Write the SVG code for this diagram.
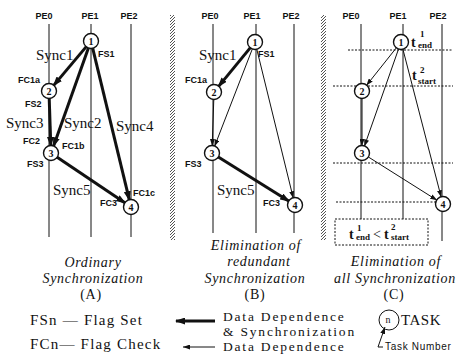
<svg xmlns="http://www.w3.org/2000/svg" width="459" height="355" viewBox="0 0 459 355">
<style>
.pe{font-family:"Liberation Sans",Arial,sans-serif;font-weight:bold;font-size:9px;text-anchor:middle;fill:#111}
.lab{font-family:"Liberation Sans",Arial,sans-serif;font-weight:bold;font-size:9px;fill:#111}
.syn{font-family:"Liberation Serif","Times New Roman",serif;font-size:15px;fill:#111}
.num{font-family:"Liberation Serif","Times New Roman",serif;font-weight:bold;font-size:10px;text-anchor:middle;fill:#111}
.cap{font-family:"Liberation Serif","Times New Roman",serif;font-style:italic;font-size:14px;letter-spacing:0.7px;text-anchor:middle;fill:#111}
.capn{font-family:"Liberation Serif","Times New Roman",serif;font-size:14px;letter-spacing:0.7px;text-anchor:middle;fill:#111}
.leg{font-family:"Liberation Serif","Times New Roman",serif;font-size:15px;letter-spacing:1.2px;fill:#111}
.leg2{font-family:"Liberation Serif","Times New Roman",serif;font-size:13.5px;letter-spacing:1.8px;fill:#111}
.tsk{font-family:"Liberation Sans",Arial,sans-serif;font-size:10px;letter-spacing:0.7px;fill:#111}
.t{font-family:"Liberation Serif","Times New Roman",serif;font-weight:bold;font-size:14px;fill:#111}
.ts{font-family:"Liberation Serif","Times New Roman",serif;font-size:9px;font-weight:bold;fill:#111}
.pel{stroke:#111;stroke-width:1;fill:none}
.thick{stroke:#111;stroke-width:3;fill:none;marker-end:url(#ah)}
.thin{stroke:#111;stroke-width:1;fill:none;marker-end:url(#at)}
.node circle{fill:#fff;stroke:#111;stroke-width:1.4}
.dash{stroke:#111;stroke-width:1;stroke-dasharray:2,1.5;fill:none}
</style>
<defs>
<marker id="ah" markerUnits="userSpaceOnUse" markerWidth="10" markerHeight="7" refX="9" refY="3.5" orient="auto"><path d="M0,0 L10,3.5 L0,7 z" fill="#111"/></marker>
<marker id="at" markerUnits="userSpaceOnUse" markerWidth="7" markerHeight="5" refX="7" refY="2.5" orient="auto"><path d="M0,0 L7,2.5 L0,5 z" fill="#111"/></marker>
<pattern id="hatch" width="3" height="3" patternUnits="userSpaceOnUse"><rect width="3" height="3" fill="#fff"/><path d="M0,3 L3,0" stroke="#555" stroke-width="1"/></pattern>
</defs>

<!-- separators -->
<rect x="170" y="15" width="5" height="225" fill="url(#hatch)"/>
<rect x="321" y="15" width="5" height="225" fill="url(#hatch)"/>

<!-- PE labels and lines -->
<g id="pe-lines">
<text class="pe" x="44" y="19">PE0</text><text class="pe" x="90" y="19">PE1</text><text class="pe" x="129" y="19">PE2</text>
<line class="pel" x1="49" y1="24" x2="49" y2="237"/><line class="pel" x1="91" y1="24" x2="91" y2="237"/><line class="pel" x1="131" y1="24" x2="131" y2="237"/>
<text class="pe" x="210" y="19">PE0</text><text class="pe" x="252" y="19">PE1</text><text class="pe" x="291" y="19">PE2</text>
<line class="pel" x1="213" y1="24" x2="213" y2="233"/><line class="pel" x1="256" y1="24" x2="256" y2="233"/><line class="pel" x1="294" y1="24" x2="294" y2="233"/>
<text class="pe" x="351" y="19">PE0</text><text class="pe" x="398" y="19">PE1</text><text class="pe" x="438" y="19">PE2</text>
<line class="pel" x1="361" y1="24" x2="361" y2="219"/><line class="pel" x1="403" y1="24" x2="403" y2="219"/><line class="pel" x1="442" y1="24" x2="442" y2="241"/>
</g>

<!-- dashed time lines panel C -->
<g id="timelines">
<line class="dash" x1="348" y1="50" x2="453" y2="50"/>
<line class="dash" x1="333" y1="86" x2="453" y2="86"/>
<line class="dash" x1="333" y1="163" x2="453" y2="163"/>
<line class="dash" x1="336" y1="202" x2="436" y2="202"/>
<rect class="dash" x="335" y="219" width="93" height="26"/>
</g>

<!-- connectors -->
<g id="connectors">
<line class="thick" x1="86.5" y1="46.4" x2="53.5" y2="85.6"/>
<line class="thick" x1="49.2" y1="98" x2="50.8" y2="146"/>
<line class="thick" x1="88.6" y1="47.6" x2="53.4" y2="146.4"/>
<line class="thick" x1="92.6" y1="47.8" x2="129.4" y2="200.2"/>
<line class="thick" x1="56.8" y1="156.9" x2="125.2" y2="203.1"/>

<line class="thick" x1="250.6" y1="47.4" x2="218.4" y2="86.6"/>
<line class="thin" x1="213.8" y1="99" x2="212.2" y2="146"/>
<line class="thin" x1="252.5" y1="48.5" x2="214.5" y2="146.5"/>
<line class="thin" x1="256.7" y1="48.8" x2="293.3" y2="198.2"/>
<line class="thick" x1="217.9" y1="156.7" x2="289.1" y2="201.3"/>

<line class="thin" x1="396.6" y1="47.5" x2="366.4" y2="85.5"/>
<line class="thin" x1="362" y1="98" x2="362" y2="146"/>
<line class="thin" x1="398.7" y1="48.6" x2="364.3" y2="146.4"/>
<line class="thin" x1="402.8" y1="48.8" x2="441.2" y2="197.2"/>
<line class="thin" x1="367.9" y1="156.7" x2="437.1" y2="200.3"/>
</g>

<!-- nodes panel A -->
<g id="a1" class="node"><circle cx="91" cy="41" r="7.5"/><text class="num" x="91" y="44.5">1</text></g>
<g id="a2" class="node"><circle cx="49" cy="91" r="7.5"/><text class="num" x="49" y="94.5">2</text></g>
<g id="a3" class="node"><circle cx="51" cy="153" r="7.5"/><text class="num" x="51" y="156.5">3</text></g>
<g id="a4" class="node"><circle cx="131" cy="207" r="7.5"/><text class="num" x="131" y="210.5">4</text></g>
<!-- nodes panel B -->
<g id="b1" class="node"><circle cx="255" cy="42" r="7.5"/><text class="num" x="255" y="45.5">1</text></g>
<g id="b2" class="node"><circle cx="214" cy="92" r="7.5"/><text class="num" x="214" y="95.5">2</text></g>
<g id="b3" class="node"><circle cx="212" cy="153" r="7.5"/><text class="num" x="212" y="156.5">3</text></g>
<g id="b4" class="node"><circle cx="295" cy="205" r="7.5"/><text class="num" x="295" y="208.5">4</text></g>
<!-- nodes panel C -->
<g id="c1" class="node"><circle cx="401" cy="42" r="7.5"/><text class="num" x="401" y="45.5">1</text></g>
<g id="c2" class="node"><circle cx="362" cy="91" r="7.5"/><text class="num" x="362" y="94.5">2</text></g>
<g id="c3" class="node"><circle cx="362" cy="153" r="7.5"/><text class="num" x="362" y="156.5">3</text></g>
<g id="c4" class="node"><circle cx="443" cy="204" r="7.5"/><text class="num" x="443" y="207.5">4</text></g>

<!-- labels panel A -->
<g id="labels-a">
<text class="syn" x="36" y="60">Sync1</text>
<text class="lab" x="98" y="57">FS1</text>
<text class="lab" x="18" y="83">FC1a</text>
<text class="lab" x="25" y="107">FS2</text>
<text class="syn" x="6" y="128">Sync3</text>
<text class="syn" x="64" y="128">Sync2</text>
<text class="syn" x="116" y="131">Sync4</text>
<text class="lab" x="23" y="144">FC2</text>
<text class="lab" x="62" y="149">FC1b</text>
<text class="lab" x="27" y="167">FS3</text>
<text class="syn" x="53" y="195">Sync5</text>
<text class="lab" x="133" y="196">FC1c</text>
<text class="lab" x="100" y="206">FC3</text>
</g>
<!-- labels panel B -->
<g id="labels-b">
<text class="syn" x="199" y="60">Sync1</text>
<text class="lab" x="258" y="57">FS1</text>
<text class="lab" x="185" y="83">FC1a</text>
<text class="lab" x="185" y="167">FS3</text>
<text class="syn" x="217" y="195">Sync5</text>
<text class="lab" x="263" y="206">FC3</text>
</g>
<!-- labels panel C -->
<g id="labels-c">
<text class="t" x="411" y="47">t</text><text class="ts" x="420" y="37">1</text><text class="ts" x="418" y="48">end</text>
<text class="t" x="412" y="80">t</text><text class="ts" x="420" y="73">2</text><text class="ts" x="418" y="84">start</text>
<text class="t" x="349" y="239">t</text><text class="ts" x="357" y="231">1</text><text class="ts" x="356" y="240">end</text>
<text class="t" x="373" y="239" style="font-weight:normal">&lt;</text>
<text class="t" x="384" y="239">t</text><text class="ts" x="391" y="230">2</text><text class="ts" x="391" y="240">start</text>
</g>

<!-- captions -->
<g id="captions">
<text class="cap" x="93" y="267">Ordinary</text>
<text class="cap" x="93" y="283">Synchronization</text>
<text class="capn" x="91" y="299">(A)</text>
<text class="cap" x="256" y="250">Elimination of</text>
<text class="cap" x="259" y="266">redundant</text>
<text class="cap" x="255" y="283">Synchronization</text>
<text class="capn" x="255" y="299">(B)</text>
<text class="cap" x="396" y="266">Elimination of</text>
<text class="cap" x="395" y="283">all Synchronization</text>
<text class="capn" x="394" y="299">(C)</text>
</g>

<!-- legend -->
<g id="legend">
<text class="leg" x="30" y="325">FSn — Flag Set</text>
<text class="leg" x="30" y="349">FCn— Flag Check</text>
<line class="thick" x1="215" y1="321" x2="176" y2="321"/>
<line class="thin" x1="215" y1="347" x2="183" y2="347"/>
<text class="leg2" x="223" y="321">Data Dependence</text>
<text class="leg2" x="223" y="335.5">&amp; Synchronization</text>
<text class="leg2" x="223" y="350.5">Data Dependence</text>
</g>
<g id="task-legend">
<circle cx="389" cy="320" r="10" fill="none" stroke="#111" stroke-width="1"/>
<text class="num" x="388" y="323" style="font-weight:normal">n</text>
<polyline points="383,347 378,347 385,327" fill="none" stroke="#111" stroke-width="1" marker-end="url(#at)"/>
<text class="capn" x="421" y="325" style="letter-spacing:0.5px;font-size:15px">TASK</text>
<text class="tsk" x="385" y="350">Task Number</text>
</g>
</svg>
